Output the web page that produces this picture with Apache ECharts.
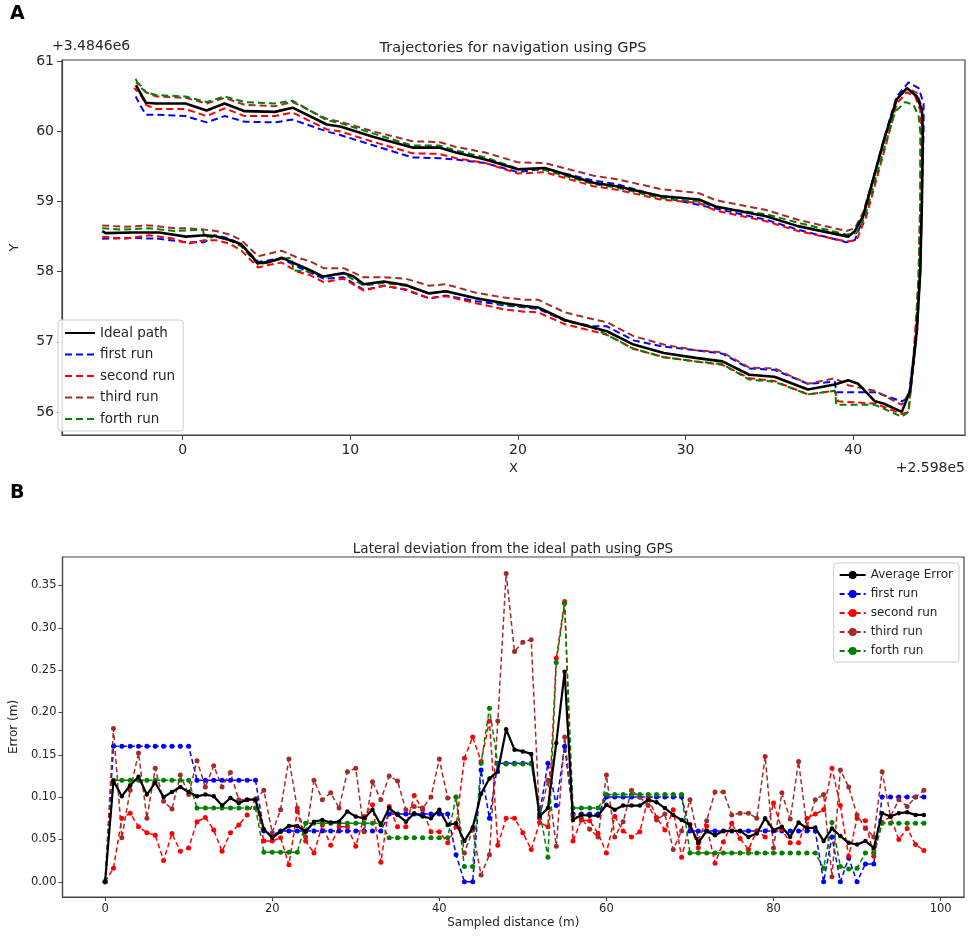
<!DOCTYPE html>
<html>
<head>
  <meta charset="utf-8">
  <title>Trajectories and lateral deviation using GPS</title>
  <script src="https://cdn.jsdelivr.net/npm/echarts@6/dist/echarts.min.js"></script>
  <style>
    html, body { margin: 0; padding: 0; background: #fff; }
    #chart { width: 969px; height: 939px; }
  </style>
</head>
<body>
  <div id="chart"></div>
  <script>
    // --- panel A: trajectories (x - 2.598e5, y - 3.4846e6) ---
    const idealPath = [
      [-4.8, 58.58], [-4.6, 58.55], [-3, 58.56], [-1.4, 58.56], [0.2, 58.5], [1.3, 58.52], [1.9, 58.51],
      [2.7, 58.46], [3.5, 58.39], [4.5, 58.12], [5.2, 58.14], [5.9, 58.2], [6.85, 58.1], [7.6, 58.02],
      [8.4, 57.93], [9.6, 57.98], [10.2, 57.93], [10.8, 57.82], [12.0, 57.86], [13.3, 57.81], [14.7, 57.69],
      [15.7, 57.72], [17.5, 57.62], [19.2, 57.55], [20.4, 57.51], [21.2, 57.49], [22.8, 57.31], [25.3, 57.15],
      [26.9, 56.96], [28.7, 56.84], [30.6, 56.77], [32.2, 56.72], [33.8, 56.53], [35.3, 56.5], [37.3, 56.32],
      [38.9, 56.39], [39.7, 56.45], [40.3, 56.4], [41.3, 56.15], [41.8, 56.12], [42.9, 56.0],
      [43.4, 56.3], [43.8, 57.17], [44.0, 58.0], [44.1, 59.0], [44.15, 60.0], [44.1, 60.31], [43.8, 60.5],
      [43.2, 60.62], [42.6, 60.46], [41.85, 59.89], [40.6, 58.8], [40.1, 58.58], [39.7, 58.5],
      [36.7, 58.65], [34.8, 58.79], [31.8, 58.93], [30.8, 59.03], [28.5, 59.08], [25.9, 59.22], [24.5, 59.27],
      [21.6, 59.48], [20.0, 59.46], [18.05, 59.6], [16.3, 59.7], [15.3, 59.77], [13.7, 59.77], [11.4, 59.92],
      [9.4, 60.07], [8.6, 60.1], [6.55, 60.34], [5.5, 60.28], [3.7, 60.29], [2.5, 60.4], [1.43, 60.3],
      [0.16, 60.4], [-1.6, 60.4], [-2.2, 60.41], [-2.79, 60.66]
    ];
    const firstRunPath = [
      [-4.8, 58.47], [-3, 58.48], [-1.4, 58.47], [0.2, 58.42], [1.3, 58.42], [1.9, 58.52], [2.7, 58.48],
      [3.5, 58.39], [4.5, 58.14], [5.9, 58.19], [6.85, 58.07], [8.4, 57.9], [9.6, 57.92], [10.8, 57.74],
      [12.0, 57.8], [13.3, 57.74], [14.7, 57.62], [15.7, 57.66], [17.5, 57.58], [19.2, 57.52], [21.2, 57.47],
      [22.8, 57.3], [24.5, 57.22], [25.3, 57.22], [26.9, 57.02], [28.7, 56.93], [30.6, 56.88], [32.2, 56.83],
      [33.8, 56.62], [35.3, 56.6], [37.3, 56.4], [38.9, 56.43], [39.0, 56.28], [41.3, 56.28], [42.9, 56.15],
      [43.3, 56.2], [43.7, 57.0], [44.0, 58.0], [44.1, 59.0], [44.2, 60.0], [44.2, 60.4], [43.9, 60.62],
      [43.3, 60.7], [42.6, 60.5], [41.9, 59.95], [40.5, 58.7], [40.1, 58.45], [39.6, 58.42],
      [36.7, 58.6], [34.8, 58.74], [31.8, 58.9], [28.5, 59.07], [25.9, 59.25], [24.5, 59.3], [21.6, 59.47],
      [20.0, 59.42], [18.05, 59.55], [16.3, 59.6], [15.3, 59.62], [13.7, 59.63], [11.4, 59.8], [9.4, 59.95],
      [8.6, 60.0], [6.55, 60.17], [5.5, 60.13], [3.7, 60.14], [2.5, 60.22], [1.43, 60.13], [0.16, 60.22],
      [-1.6, 60.24], [-2.2, 60.24], [-2.5, 60.36], [-2.8, 60.5]
    ];
    const secondRunPath = [
      [-4.8, 58.5], [-3.5, 58.47], [-2, 58.52], [-0.5, 58.47], [0.3, 58.4], [1.3, 58.45], [2.0, 58.45],
      [2.8, 58.4], [3.5, 58.3], [4.5, 58.06], [5.2, 58.1], [5.9, 58.13], [6.85, 58.0], [7.6, 57.95],
      [8.4, 57.85], [9.6, 57.9], [10.8, 57.73], [12.0, 57.8], [13.3, 57.75], [14.7, 57.62], [15.7, 57.65],
      [17.5, 57.55], [19.2, 57.46], [20.4, 57.43], [21.2, 57.42], [22.8, 57.25], [24.5, 57.15], [25.3, 57.1],
      [26.9, 56.9], [28.7, 56.78], [30.6, 56.72], [32.2, 56.67], [33.8, 56.48], [35.3, 56.44], [37.3, 56.25],
      [38.9, 56.3], [39.1, 56.15], [40.5, 56.13], [41.3, 56.12], [42.9, 55.97],
      [43.3, 56.0], [43.6, 56.8], [43.9, 57.9], [44.0, 59.0], [44.05, 60.0], [44.0, 60.3], [43.7, 60.5],
      [43.2, 60.56], [42.6, 60.4], [42.0, 59.85], [40.8, 58.8], [40.2, 58.45], [39.6, 58.43],
      [36.7, 58.58], [34.8, 58.72], [31.8, 58.87], [30.8, 58.98], [28.5, 59.03], [25.9, 59.17], [24.5, 59.22],
      [21.6, 59.42], [20.0, 59.4], [18.05, 59.55], [16.3, 59.62], [15.3, 59.68], [13.7, 59.69], [11.4, 59.85],
      [9.4, 60.0], [8.6, 60.03], [6.55, 60.27], [5.5, 60.22], [3.7, 60.22], [2.5, 60.33], [1.43, 60.22],
      [0.16, 60.32], [-1.6, 60.32], [-2.2, 60.38], [-2.5, 60.52], [-2.9, 60.62]
    ];
    const thirdRunPath = [
      [-4.8, 58.66], [-3.5, 58.64], [-2, 58.66], [-0.5, 58.62], [0.3, 58.62], [1.3, 58.6], [2.0, 58.58],
      [2.8, 58.53], [3.5, 58.45], [4.5, 58.22], [5.2, 58.26], [5.9, 58.3], [6.85, 58.2], [7.6, 58.15],
      [8.4, 58.05], [9.6, 58.05], [10.8, 57.92], [12.0, 57.92], [13.3, 57.9], [14.7, 57.8], [15.7, 57.82],
      [17.5, 57.7], [19.2, 57.63], [20.4, 57.6], [21.2, 57.6], [22.8, 57.42], [24.5, 57.32], [25.3, 57.28],
      [26.9, 57.08], [28.7, 56.96], [30.6, 56.88], [32.2, 56.85], [33.8, 56.63], [35.3, 56.62], [37.3, 56.4],
      [38.9, 56.48], [39.7, 56.38], [41.3, 56.3], [42.9, 56.1],
      [43.4, 56.3], [43.8, 57.1], [44.0, 58.0], [44.1, 59.0], [44.15, 60.0], [44.1, 60.35], [43.8, 60.55],
      [43.2, 60.62], [42.6, 60.45], [41.9, 59.9], [40.6, 58.85], [40.1, 58.62], [39.6, 58.58],
      [36.7, 58.74], [34.8, 58.88], [31.8, 59.02], [30.8, 59.12], [28.5, 59.18], [25.9, 59.32], [24.5, 59.37],
      [21.6, 59.55], [20.0, 59.56], [18.05, 59.7], [16.3, 59.78], [15.3, 59.85], [13.7, 59.86], [11.4, 60.0],
      [9.4, 60.14], [8.6, 60.18], [6.55, 60.42], [5.5, 60.36], [3.7, 60.38], [2.5, 60.48], [1.43, 60.4],
      [0.16, 60.48], [-1.6, 60.5], [-2.2, 60.56], [-2.6, 60.68], [-2.8, 60.7]
    ];
    const forthRunPath = [
      [-4.8, 58.62], [-3.5, 58.6], [-2, 58.62], [-0.5, 58.58], [1.2, 58.6], [1.3, 58.5], [2.0, 58.5],
      [2.8, 58.45], [3.5, 58.36], [4.5, 58.1], [5.9, 58.18], [6.5, 58.2], [6.6, 58.02], [7.6, 58.0],
      [8.4, 57.92], [9.0, 57.95], [9.6, 57.97], [10.8, 57.8], [12.0, 57.84], [13.3, 57.8], [14.7, 57.69],
      [15.7, 57.72], [17.5, 57.62], [19.2, 57.53], [20.4, 57.5], [21.2, 57.49], [22.8, 57.3], [24.5, 57.2],
      [25.3, 57.1], [26.9, 56.9], [28.7, 56.78], [30.6, 56.72], [32.2, 56.68], [33.8, 56.46], [35.3, 56.43],
      [37.3, 56.25], [38.9, 56.3], [39.0, 56.1], [41.3, 56.1], [42.9, 55.93],
      [43.3, 56.0], [43.7, 56.9], [43.9, 58.0], [44.0, 59.0], [44.0, 60.0], [43.9, 60.22], [43.6, 60.38],
      [43.1, 60.42], [42.5, 60.28], [41.9, 59.8], [40.7, 58.78], [40.2, 58.55], [39.6, 58.53],
      [36.7, 58.7], [34.8, 58.82], [31.8, 58.92], [30.8, 59.0], [28.5, 59.05], [25.9, 59.2], [24.5, 59.25],
      [21.6, 59.45], [20.0, 59.47], [18.05, 59.63], [16.3, 59.73], [15.3, 59.8], [13.7, 59.8], [11.4, 59.97],
      [9.4, 60.12], [8.6, 60.16], [6.55, 60.44], [5.5, 60.4], [3.7, 60.42], [2.5, 60.5], [1.43, 60.42],
      [0.16, 60.5], [-1.6, 60.52], [-2.2, 60.56], [-2.6, 60.65], [-2.85, 60.77]
    ];
    const trajXTicks = [0, 10, 20, 30, 40];
    const trajYTicks = [56, 57, 58, 59, 60, 61];

    // --- panel B: lateral error per sampled distance (index 0..98) ---
    const avgError = [
      0, 0.119, 0.101, 0.114, 0.124, 0.103, 0.117, 0.100, 0.106, 0.112,
      0.106, 0.101, 0.103, 0.101, 0.090, 0.099, 0.093, 0.097, 0.097, 0.062,
      0.052, 0.059, 0.066, 0.066, 0.059, 0.071, 0.073, 0.070, 0.071, 0.083,
      0.077, 0.075, 0.085, 0.067, 0.087, 0.079, 0.071, 0.081, 0.077, 0.075,
      0.085, 0.067, 0.069, 0.048, 0.064, 0.104, 0.122, 0.130, 0.180, 0.156,
      0.154, 0.151, 0.077, 0.087, 0.164, 0.248, 0.073, 0.079, 0.078, 0.078,
      0.091, 0.085, 0.090, 0.090, 0.090, 0.097, 0.094, 0.087, 0.079, 0.073,
      0.067, 0.046, 0.060, 0.055, 0.060, 0.060, 0.060, 0.053, 0.057, 0.075,
      0.061, 0.065, 0.053, 0.070, 0.063, 0.064, 0.048, 0.063, 0.054, 0.046,
      0.044, 0.048, 0.040, 0.081, 0.077, 0.081, 0.082, 0.079, 0.079
    ];
    const firstRunErr = [
      0, 0.16, 0.16, 0.16, 0.16, 0.16, 0.16, 0.16, 0.16, 0.16,
      0.16, 0.12, 0.12, 0.12, 0.12, 0.12, 0.12, 0.12, 0.12, 0.06,
      0.055, 0.06, 0.06, 0.06, 0.06, 0.06, 0.06, 0.06, 0.06, 0.06,
      0.06, 0.06, 0.06, 0.06, 0.08, 0.08, 0.08, 0.08, 0.08, 0.08,
      0.08, 0.08, 0.032, 0, 0, 0.132, 0.075, 0.14, 0.14, 0.14,
      0.14, 0.14, 0.08, 0.14, 0.09, 0.16, 0.08, 0.08, 0.08, 0.08,
      0.10, 0.10, 0.10, 0.10, 0.10, 0.10, 0.10, 0.10, 0.10, 0.10,
      0.06, 0.06, 0.06, 0.06, 0.06, 0.06, 0.06, 0.06, 0.06, 0.06,
      0.06, 0.06, 0.06, 0.06, 0.06, 0.06, 0, 0.053, 0, 0.028,
      0, 0.021, 0.021, 0.10, 0.10, 0.10, 0.10, 0.10, 0.10
    ];
    const secondRunErr = [
      0, 0.016, 0.075, 0.081, 0.065, 0.058, 0.055, 0.025, 0.057, 0.036,
      0.040, 0.071, 0.076, 0.061, 0.036, 0.058, 0.067, 0.079, 0.097, 0.048,
      0.048, 0.052, 0.020, 0.083, 0.048, 0.034, 0.067, 0.043, 0.065, 0.065,
      0.042, 0.077, 0.091, 0.023, 0.089, 0.065, 0.065, 0.102, 0.085, 0.059,
      0.059, 0.046, 0.065, 0.146, 0.171, 0.142, 0.190, 0.043, 0.075, 0.075,
      0.058, 0.038, 0.070, 0.065, 0.264, 0.331, 0.048, 0.073, 0.072, 0.057,
      0.034, 0.077, 0.060, 0.053, 0.059, 0.099, 0.076, 0.061, 0.085, 0.029,
      0.068, 0.040, 0.066, 0.022, 0.047, 0.069, 0.051, 0.038, 0.060, 0.053,
      0.093, 0.062, 0.046, 0.046, 0.075, 0.080, 0.085, 0.134, 0.090, 0.030,
      0.075, 0.072, 0.030, 0.070, 0.077, 0.050, 0.063, 0.044, 0.037
    ];
    const thirdRunErr = [
      0, 0.181, 0.052, 0.108, 0.152, 0.075, 0.134, 0.095, 0.086, 0.126,
      0.103, 0.143, 0.112, 0.137, 0.112, 0.129, 0.097, 0.097, 0.098, 0.108,
      0.058, 0.085, 0.145, 0.087, 0.053, 0.120, 0.097, 0.105, 0.087, 0.130,
      0.134, 0.059, 0.118, 0.097, 0.125, 0.119, 0.085, 0.089, 0.087, 0.100,
      0.145, 0.099, 0.100, 0.034, 0.061, 0.008, 0.032, 0.190, 0.364, 0.272,
      0.283, 0.286, 0.075, 0.120, 0.042, 0.171, 0.078, 0.075, 0.062, 0.053,
      0.126, 0.053, 0.071, 0.108, 0.100, 0.090, 0.073, 0.080, 0.038, 0.060,
      0.097, 0.050, 0.072, 0.106, 0.106, 0.079, 0.081, 0.081, 0.075, 0.148,
      0.040, 0.105, 0.074, 0.142, 0.065, 0.097, 0.103, 0.006, 0.132, 0.112,
      0.079, 0.063, 0.053, 0.130, 0.077, 0.097, 0.089, 0.100, 0.108
    ];
    const forthRunErr = [
      0, 0.12, 0.12, 0.12, 0.12, 0.12, 0.12, 0.12, 0.12, 0.12,
      0.12, 0.087, 0.087, 0.087, 0.087, 0.087, 0.087, 0.087, 0.087, 0.035,
      0.035, 0.035, 0.035, 0.035, 0.069, 0.069, 0.069, 0.069, 0.069, 0.069,
      0.069, 0.069, 0.069, 0.069, 0.052, 0.052, 0.052, 0.052, 0.052, 0.052,
      0.052, 0.052, 0.100, 0.018, 0.018, 0.140, 0.205, 0.139, 0.139, 0.139,
      0.139, 0.139, 0.085, 0.029, 0.259, 0.329, 0.087, 0.087, 0.087, 0.087,
      0.103, 0.103, 0.103, 0.103, 0.103, 0.103, 0.103, 0.103, 0.103, 0.103,
      0.034, 0.034, 0.034, 0.034, 0.034, 0.034, 0.034, 0.034, 0.034, 0.034,
      0.034, 0.034, 0.034, 0.034, 0.034, 0.034, 0.016, 0.070, 0.018, 0.015,
      0.016, 0.034, 0.034, 0.069, 0.069, 0.069, 0.069, 0.069, 0.069
    ];
    const errXTicks = [0, 20, 40, 60, 80, 100];
    const errYTicks = [0, 0.05, 0.10, 0.15, 0.20, 0.25, 0.30, 0.35];

    const runNames = ['first run', 'second run', 'third run', 'forth run'];
    const colors = ['#0000ff', '#ff0000', '#a52a2a', '#008000'];
    const FONT = 'DejaVu Sans';
    const TXT = '#262626';

    const myChart = echarts.init(document.getElementById('chart'));

    function withIndex(arr) {
      return arr.map((v, i) => [i, v]);
    }

    function axisBase(extra) {
      return Object.assign({
        type: 'value',
        splitLine: { show: false },
        axisLine: { show: true, onZero: false, lineStyle: { color: '#444', width: 1.2 } },
        axisTick: { show: true, inside: false, length: 5, lineStyle: { color: '#444', width: 1 } },
        nameTextStyle: { fontFamily: FONT, color: TXT }
      }, extra);
    }

    const trajPaths = [firstRunPath, secondRunPath, thirdRunPath, forthRunPath];
    const errRuns = [firstRunErr, secondRunErr, thirdRunErr, forthRunErr];

    const series = [];
    series.push({
      name: 'Ideal path', type: 'line', xAxisIndex: 0, yAxisIndex: 0,
      data: idealPath, symbol: 'none', z: 3,
      lineStyle: { color: '#000', width: 2.6, type: 'solid' }, itemStyle: { color: '#000' }
    });
    runNames.forEach((n, k) => {
      series.push({
        name: n, type: 'line', xAxisIndex: 0, yAxisIndex: 0,
        data: trajPaths[k], symbol: 'none', z: 2,
        lineStyle: { color: colors[k], width: 2, type: [7, 4] }, itemStyle: { color: colors[k] }
      });
    });
    series.push({
      name: 'Average Error', type: 'line', xAxisIndex: 1, yAxisIndex: 1,
      data: withIndex(avgError), symbol: 'circle', symbolSize: 4.5, showAllSymbol: true, z: 3,
      lineStyle: { color: '#000', width: 2.2 }, itemStyle: { color: '#000' }
    });
    runNames.forEach((n, k) => {
      series.push({
        name: n + ' (B)', type: 'line', xAxisIndex: 1, yAxisIndex: 1,
        data: withIndex(errRuns[k]), symbol: 'circle', symbolSize: 5, showAllSymbol: true, z: 2,
        lineStyle: { color: colors[k], width: 1.5, type: [5, 3] }, itemStyle: { color: colors[k] }
      });
    });

    const option = {
      animation: false,
      backgroundColor: '#fff',
      title: [
        { text: 'Trajectories for navigation using GPS', left: 508, top: 36, textAlign: 'center',
          textStyle: { fontFamily: FONT, fontSize: 14.5, fontWeight: 'normal', color: TXT } },
        { text: 'Lateral deviation from the ideal path using GPS', left: 508, top: 537, textAlign: 'center',
          textStyle: { fontFamily: FONT, fontSize: 13.5, fontWeight: 'normal', color: TXT } }
      ],
      graphic: [
        { type: 'text', left: 10, top: 5, style: { text: 'A', font: 'bold 19px "DejaVu Sans"', fill: '#000' } },
        { type: 'text', left: 10, top: 484, style: { text: 'B', font: 'bold 19px "DejaVu Sans"', fill: '#000' } },
        { type: 'text', left: 52, top: 39, style: { text: '+3.4846e6', font: '14px "DejaVu Sans"', fill: TXT } },
        { type: 'text', right: 4, top: 461, style: { text: '+2.598e5', font: '14px "DejaVu Sans"', fill: TXT } }
      ],
      legend: [
        {
          data: ['Ideal path'].concat(runNames),
          orient: 'vertical', left: 58, top: 320,
          itemWidth: 30, itemHeight: 12, itemGap: 7.5,
          itemStyle: { opacity: 0 },
          backgroundColor: 'rgba(255,255,255,0.85)', borderColor: '#cccccc', borderWidth: 1, borderRadius: 3,
          padding: [6, 8, 5, 6],
          textStyle: { fontFamily: FONT, fontSize: 13.5, color: TXT }
        },
        {
          data: ['Average Error'].concat(runNames.map(n => n + ' (B)')),
          formatter: name => name.replace(' (B)', ''),
          orient: 'vertical', right: 10, top: 563,
          itemWidth: 26, itemHeight: 10, itemGap: 7,
          backgroundColor: 'rgba(255,255,255,0.85)', borderColor: '#cccccc', borderWidth: 1, borderRadius: 3,
          padding: [6, 6, 5, 5],
          textStyle: { fontFamily: FONT, fontSize: 12, color: TXT }
        }
      ],
      grid: [
        { left: 52, top: 60, width: 913, height: 375, show: true, borderColor: '#444', borderWidth: 1.2 },
        { left: 52, top: 557, width: 912, height: 340, show: true, borderColor: '#444', borderWidth: 1.2 }
      ],
      xAxis: [
        axisBase({
          gridIndex: 0, min: -7.2, max: 46.67,
          name: 'X', nameLocation: 'middle', nameGap: 27,
          nameTextStyle: { fontFamily: FONT, color: TXT, fontSize: 13 },
          axisTick: { show: true, length: 5, customValues: trajXTicks, lineStyle: { color: '#444' } },
          axisLabel: { customValues: trajXTicks, margin: 8, fontFamily: FONT, fontSize: 14, color: TXT }
        }),
        axisBase({
          gridIndex: 1, min: -5.1, max: 102.8,
          name: 'Sampled distance (m)', nameLocation: 'middle', nameGap: 20,
          nameTextStyle: { fontFamily: FONT, color: TXT, fontSize: 12 },
          axisTick: { show: true, length: 4, customValues: errXTicks, lineStyle: { color: '#444' } },
          axisLabel: { customValues: errXTicks, margin: 6, fontFamily: FONT, fontSize: 11.5, color: TXT }
        })
      ],
      yAxis: [
        axisBase({
          gridIndex: 0, min: 55.67, max: 61.02,
          name: 'Y', nameLocation: 'middle', nameGap: 41, nameRotate: 90,
          nameTextStyle: { fontFamily: FONT, color: TXT, fontSize: 13 },
          axisTick: { show: true, length: 5, customValues: trajYTicks, lineStyle: { color: '#444' } },
          axisLabel: { customValues: trajYTicks, margin: 8, fontFamily: FONT, fontSize: 14, color: TXT }
        }),
        axisBase({
          gridIndex: 1, min: -0.018, max: 0.3836,
          name: 'Error (m)', nameLocation: 'middle', nameGap: 41, nameRotate: 90,
          nameTextStyle: { fontFamily: FONT, color: TXT, fontSize: 12 },
          axisTick: { show: true, length: 4, customValues: errYTicks, lineStyle: { color: '#444' } },
          axisLabel: { customValues: errYTicks, margin: 6, fontFamily: FONT, fontSize: 11.5, color: TXT,
            formatter: v => v.toFixed(2) }
        })
      ],
      series: series
    };

    myChart.setOption(option);
  </script>
</body>
</html>
